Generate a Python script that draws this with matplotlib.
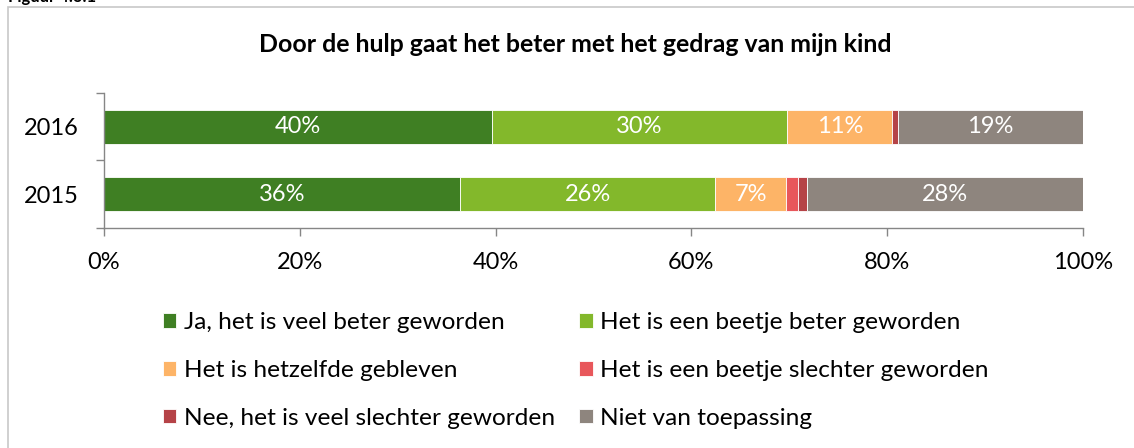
import numpy as np
import matplotlib.pyplot as plt
from matplotlib.patches import Rectangle

plt.rcParams['font.family'] = ['Lato', 'DejaVu Sans']

# data (percentages)
years = ['2015', '2016']
categories = ['Ja, het is veel beter geworden',
              'Het is een beetje beter geworden',
              'Het is hetzelfde gebleven',
              'Het is een beetje slechter geworden',
              'Nee, het is veel slechter geworden',
              'Niet van toepassing']
values = {
    '2015': [36.4, 26.0, 7.3, 1.2, 0.9, 28.2],
    '2016': [39.6, 30.2, 10.7, 0.0, 0.6, 18.9],
}
labels = {
    '2015': ['36%', '26%', '7%', '', '', '28%'],
    '2016': ['40%', '30%', '11%', '', '', '19%'],
}
colors = ['#3f7f23', '#83b82b', '#fdb467', '#e8575b', '#b54347', '#8e857e']

fig = plt.figure(figsize=(11.34, 4.48), dpi=100)

# outer frame of the chart (right and bottom fall off the image)
fig.patches.append(Rectangle((8 / 1134, -0.1), 1.2, 1 - 7 / 448 + 0.1,
                             transform=fig.transFigure, fill=False,
                             edgecolor='#c8c8c8', linewidth=1.2))
fig.text(8 / 1134, 1 - 2 / 448, 'Figuur 4.3.1', fontsize=12, fontweight='bold',
         ha='left', va='baseline')

ax = fig.add_axes([104 / 1134, 1 - 228 / 448, 979 / 1134, 135 / 448])

ypos = np.arange(len(years))
handles = []
for i, cat in enumerate(categories):
    vals = np.array([values[y][i] for y in years])
    left = np.array([sum(values[y][:i]) for y in years])
    bars = ax.barh(ypos, vals, left=left, height=0.5, color=colors[i],
                   edgecolor='#ffffff', linewidth=0.6, label=cat)
    handles.append(bars)
    for j, y in enumerate(years):
        if labels[y][i]:
            ax.text(left[j] + vals[j] / 2, ypos[j], labels[y][i], color='white',
                    fontsize=17, ha='center', va='center')

ax.set_xlim(0, 100)
ax.set_ylim(-0.5, 1.5)
ax.set_xticks(np.arange(0, 101, 20))
ax.set_xticklabels([f'{t}%' for t in range(0, 101, 20)], fontsize=17)
ax.set_yticks(ypos)
ax.set_yticklabels(years, fontsize=17)
ax.set_yticks([-0.5, 0.5, 1.5], minor=True)
ax.tick_params(axis='y', which='major', length=0, pad=18)
ax.tick_params(axis='y', which='minor', length=6, color='#868686', width=1)
ax.tick_params(axis='x', length=6, color='#868686', width=1, pad=11)
for s in ['top', 'right']:
    ax.spines[s].set_visible(False)
for s in ['left', 'bottom']:
    ax.spines[s].set_color('#868686')
    ax.spines[s].set_linewidth(1)

fig.text(0.5075, 1 - 45 / 448, 'Door de hulp gaat het beter met het gedrag van mijn kind',
         fontsize=17.9, fontweight='bold', ha='center', va='center')

# legend is read row by row in the picture
order = [0, 2, 4, 1, 3, 5]
fig.legend([handles[k] for k in order], [categories[k] for k in order],
           ncol=2, loc='upper left', bbox_to_anchor=(163 / 1134, 1 - 312 / 448),
           frameon=False, fontsize=17.6, handlelength=0.55, handleheight=0.55,
           handletextpad=0.3, columnspacing=1.0, labelspacing=1.1,
           borderaxespad=0, borderpad=0)

fig.savefig('out.png', dpi=100)
